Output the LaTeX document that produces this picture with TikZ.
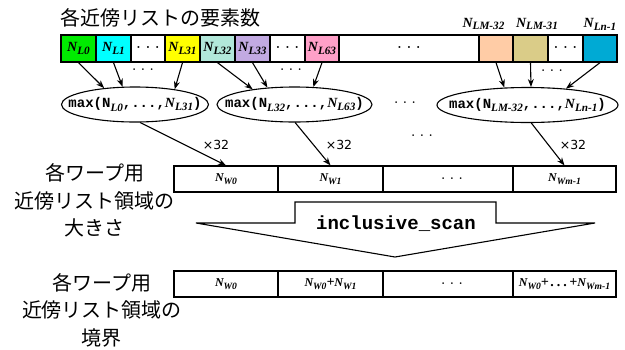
\documentclass[tikz,border=0pt]{standalone}
\usepackage{fontspec}
\setmonofont{Liberation Mono}
\newfontfamily\jpfont{Noto Sans CJK JP}
\newfontfamily\djfont{DejaVu Sans}
\newfontfamily\nfont{Liberation Serif}
\usetikzlibrary{shapes.geometric,arrows.meta}
\definecolor{cgreen}{RGB}{0,235,0}
\definecolor{ccyan}{RGB}{0,255,255}
\definecolor{cyellow}{RGB}{255,255,0}
\definecolor{cteal}{RGB}{178,232,218}
\definecolor{cpurple}{RGB}{194,170,226}
\definecolor{cpink}{RGB}{255,160,200}
\definecolor{cpeach}{RGB}{255,204,166}
\definecolor{ckhaki}{RGB}{218,204,136}
\definecolor{cblue}{RGB}{0,170,212}
\newcommand{\subsc}[1]{\raisebox{-0.45ex}{\scalebox{0.8}{\nfont\bfseries\itshape #1}}}
\newcommand{\NN}[1]{{\nfont\bfseries\itshape N\subsc{#1}}}
\newcommand{\mydots}{\raisebox{0.3ex}{\bfseries .\hspace{5pt}.\hspace{5pt}.}}
\begin{document}
\begin{tikzpicture}[x=1pt,y=-1pt,
  cellbox/.style={draw, line width=1.3pt, minimum height=27pt, inner sep=0pt, font=\fontsize{14}{16}\selectfont},
  wbox/.style={draw, line width=1.1pt, minimum height=26pt, inner sep=0pt, font=\fontsize{12}{14}\selectfont},
  ell/.style={draw, ellipse, line width=1.1pt, minimum height=35pt, inner sep=0pt, font=\fontsize{14}{16}\selectfont\ttfamily\bfseries},
  arr/.style={line width=1.1pt, -{Stealth[length=8pt,width=6pt]}},
  jplabel/.style={font=\jpfont\fontsize{20}{27.5}\selectfont, align=center, inner sep=0pt},
  dotlbl/.style={font=\fontsize{12}{14}\selectfont, inner sep=0pt},
  toplbl/.style={font=\fontsize{14}{16}\selectfont, inner sep=0pt},
  x32/.style={font=\djfont\fontsize{12.5}{14}\selectfont, inner sep=0pt}]
\useasboundingbox (0,0) rectangle (625,349);

% title
\node[jplabel, anchor=west] (title) at (60,18) {各近傍リストの要素数};

% top row cells
\node[cellbox, fill=cgreen,  minimum width=35pt] (c0) at (78.5,48.5) {\NN{L0}};
\node[cellbox, fill=ccyan,   minimum width=35pt] (c1) at (113.5,48.5) {\NN{L1}};
\node[cellbox, fill=white,   minimum width=34pt] (cd1) at (148,48.5) {\mydots};
\node[cellbox, fill=cyellow, minimum width=35pt] (c31) at (182.5,48.5) {\NN{L31}};
\node[cellbox, fill=cteal,   minimum width=35pt] (c32) at (217.5,48.5) {\NN{L32}};
\node[cellbox, fill=cpurple, minimum width=35pt] (c33) at (252.5,48.5) {\NN{L33}};
\node[cellbox, fill=white,   minimum width=35pt] (cd2) at (287.5,48.5) {\mydots};
\node[cellbox, fill=cpink,   minimum width=34pt] (c63) at (322,48.5) {\NN{L63}};
\node[cellbox, fill=white,   minimum width=140pt] (cd3) at (409,48.5) {\mydots};
\node[cellbox, fill=cpeach,  minimum width=34pt] (cm32) at (496,48.5) {};
\node[cellbox, fill=ckhaki,  minimum width=35pt] (cm31) at (530.5,48.5) {};
\node[cellbox, fill=white,   minimum width=35pt] (cd4) at (565.5,48.5) {\mydots};
\node[cellbox, fill=cblue,   minimum width=34pt] (cn1) at (600,48.5) {};

% labels above
\node[toplbl] (lm32) at (483.5,24) {\NN{LM-32}};
\node[toplbl] (lm31) at (537,24) {\NN{LM-31}};
\node[toplbl] (ln1) at (600,24) {\NN{Ln-1}};

% ellipses
\node[ell, minimum width=147pt] (e1) at (135,104.5) {\makebox[0pt]{max(N\subsc{L0},...,\NN{L31})}};
\node[ell, minimum width=155pt] (e2) at (294.5,104.5) {\makebox[0pt]{max(N\subsc{L32},...,\NN{L63})}};
\node[ell, minimum width=181pt] (e3) at (527.5,105) {\makebox[0pt]{max(N\subsc{LM-32},...,\NN{Ln-1})}};

% dots
\node[dotlbl] (d1) at (143,70) {\mydots};
\node[dotlbl] (d2) at (291,70) {\mydots};
\node[dotlbl] (d3) at (552,71) {\mydots};
\node[dotlbl] (d4) at (405,103) {\mydots};
\node[dotlbl] (d5) at (422,136) {\mydots};

% arrows cells -> ellipses
\draw[arr] (c0.south) -- (e1.152);
\draw[arr] (c1.south) -- (e1.125);
\draw[arr] (c31.south) -- (e1.21);
\draw[arr] (c32.south) -- (e2.160);
\draw[arr] (c33.south) -- (e2.148);
\draw[arr] (c63.south) -- (e2.43);
\draw[arr] (cm32.south) -- (e3.143);
\draw[arr] (cm31.south) -- (e3.79);
\draw[arr] (cn1.south) -- (e3.23);

% second row
\node[wbox, minimum width=104pt] (w0) at (226,179) {\NN{W0}};
\node[wbox, minimum width=105pt] (w1) at (330.5,179) {\NN{W1}};
\node[wbox, minimum width=130pt] (wd) at (448,179) {\hspace{8pt}\mydots};
\node[wbox, minimum width=103pt] (wm) at (564.5,179) {\NN{Wm-1}};

\draw[arr] (e1.-74) -- (w0.north);
\draw[arr] (e2.-88) -- (w1.north);
\draw[arr] (e3.-78) -- (wm.north);
\node[x32] (x1) at (216,145) {×32};
\node[x32] (x2) at (339,145) {×32};
\node[x32] (x3) at (573,145) {×32};

% left labels
\node[jplabel] (lab1) at (95,200.5) {各ワープ用\\近傍リスト領域の\\大きさ};
\node[jplabel] (lab2) at (102,310) {各ワープ用\\近傍リスト領域の\\境界};

% big arrow
\draw[line width=1.1pt, line join=miter] (196,223) -- (295,223) -- (295,202) -- (496,202) -- (496,223) -- (595,223) -- (395,257) -- cycle;
\node[font=\fontsize{19}{21}\selectfont\ttfamily\bfseries, anchor=base, inner sep=0pt] (scan) at (396,229) {inclusive\_scan};

% third row
\node[wbox, minimum width=104pt] (s0) at (226,284) {\NN{W0}};
\node[wbox, minimum width=105pt] (s1) at (330.5,284) {\NN{W0}{\nfont\bfseries\itshape\fontsize{14}{14}\selectfont +}\NN{W1}};
\node[wbox, minimum width=130pt] (sd) at (448,284) {\hspace{8pt}\mydots};
\node[wbox, minimum width=103pt] (sm) at (564.5,284) {\NN{W0}{\nfont\bfseries\itshape\fontsize{14}{14}\selectfont +\hspace{2pt}.\hspace{3pt}.\hspace{3pt}.\hspace{2pt}+}\NN{Wm-1}};
\end{tikzpicture}
\end{document}
